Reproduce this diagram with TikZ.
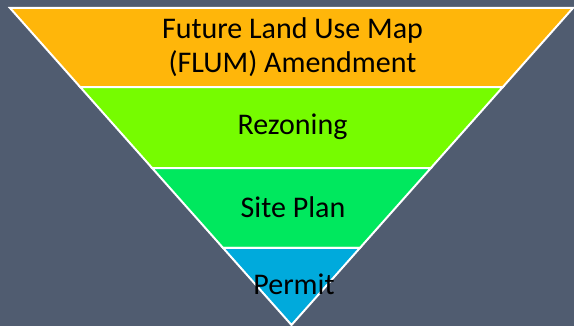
\documentclass[tikz,border=0pt]{standalone}
\usepackage{fontspec}
\setmainfont{Carlito}
\usetikzlibrary{calc}
\definecolor{slatebg}{RGB}{80,92,112}
\definecolor{bandorange}{RGB}{255,182,10}
\definecolor{bandlime}{RGB}{118,252,0}
\definecolor{bandgreen}{RGB}{0,232,94}
\definecolor{bandblue}{RGB}{0,170,220}
\tikzset{
  band/.style={draw=white, line width=2pt, line join=miter},
  label/.style={font=\fontsize{30}{34}\selectfont, text=black, align=center, inner sep=0pt},
}
\begin{document}
\begin{tikzpicture}[x=1pt,y=-1pt]
  % canvas and background
  \fill[slatebg] (0,0) rectangle (574,326);
  \useasboundingbox (0,0) rectangle (574,326);

  % corners of the inverted triangle
  \coordinate (TL) at (10,8);
  \coordinate (TR) at (573,8);
  \coordinate (A)  at (291.5,325);

  % band boundaries along the two slanted edges
  \coordinate (L1) at ($(TL)!0.25!(A)$);
  \coordinate (R1) at ($(TR)!0.25!(A)$);
  \coordinate (L2) at ($(TL)!0.505!(A)$);
  \coordinate (R2) at ($(TR)!0.505!(A)$);
  \coordinate (L3) at ($(TL)!0.757!(A)$);
  \coordinate (R3) at ($(TR)!0.757!(A)$);

  % the four bands
  \filldraw[band, fill=bandorange] (TL) -- (TR) -- (R1) -- (L1) -- cycle;
  \filldraw[band, fill=bandlime]   (L1) -- (R1) -- (R2) -- (L2) -- cycle;
  \filldraw[band, fill=bandgreen]  (L2) -- (R2) -- (R3) -- (L3) -- cycle;
  \filldraw[band, fill=bandblue]   (L3) -- (R3) -- (A) -- cycle;

  % band labels (a two-line node sits on the baseline of its last line)
  \node[label, anchor=base] (flum)   at (292.5,73)  {Future Land Use Map\\(FLUM) Amendment};
  \node[label, anchor=base] (rezone) at (292.5,135) {Rezoning};
  \node[label, anchor=base] (site)   at (293,218)   {Site Plan};
  \node[label, anchor=base] (permit) at (294,295)   {Permit};
\end{tikzpicture}
\end{document}
